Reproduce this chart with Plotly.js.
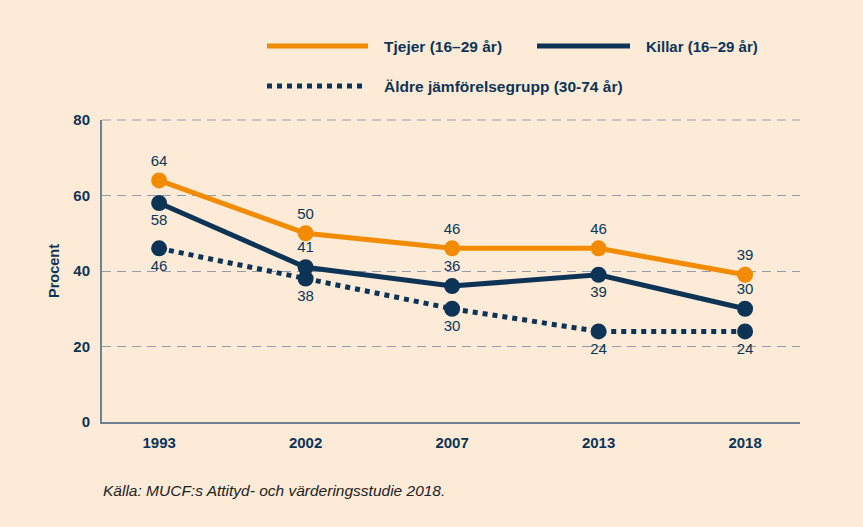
<!DOCTYPE html>
<html><head><meta charset="utf-8">
<script src="https://cdn.plot.ly/plotly-3.0.1.min.js"></script>
<style>html,body{margin:0;padding:0;background:#FDEBD7;}</style>
</head><body>
<div id="chart" style="width:863px;height:527px;"></div>
<script>
const years = ['1993', '2002', '2007', '2013', '2018'];
const tjejer = [64, 50, 46, 46, 39];
const killar = [58, 41, 36, 39, 30];
const aldre = [46, 38, 30, 24, 24];
const killarPos = ['bottom center', 'top center', 'top center', 'bottom center', 'top center'];
const seriesNames = ['Tjejer (16–29 år)', 'Killar (16–29 år)', 'Äldre jämförelsegrupp (30-74 år)'];
const yTicks = [0, 20, 40, 60, 80];
const source = 'Källa: MUCF:s Attityd- och värderingsstudie 2018.';

const navy = '#0D3456';
const orange = '#F28B00';
const bg = '#FDEBD7';
const font = 'Liberation Sans, Arial, sans-serif';
const gridColor = '#929DAA';

const common = {
  type: 'scatter', mode: 'lines+markers+text', x: years, cliponaxis: false,
  textfont: {family: font, size: 15, color: navy}, hoverinfo: 'none'
};
const traces = [
  Object.assign({}, common, {name: seriesNames[2], y: aldre, text: aldre.map(String),
    textposition: 'bottom center',
    line: {color: navy, width: 5, dash: '5px,5px'}, marker: {color: navy, size: 16}}),
  Object.assign({}, common, {name: seriesNames[1], y: killar, text: killar.map(String),
    textposition: killarPos,
    line: {color: navy, width: 5}, marker: {color: navy, size: 16}}),
  Object.assign({}, common, {name: seriesNames[0], y: tjejer, text: tjejer.map(String),
    textposition: 'top center',
    line: {color: orange, width: 5}, marker: {color: orange, size: 16}})
];

function px(x) { return (x - 102) / 698; }
function py(y) { return (422 - y) / 302; }

const layout = {
  width: 863, height: 527,
  paper_bgcolor: bg, plot_bgcolor: bg,
  margin: {l: 102, r: 63, t: 120, b: 105},
  showlegend: false,
  font: {family: font, color: navy},
  xaxis: {
    type: 'category', range: [-0.39, 4.375], showgrid: false,
    showline: true, linecolor: '#6F8193', linewidth: 2,
    ticks: '', ticklabelstandoff: 6,
    tickfont: {family: font, size: 15, color: navy, weight: 'bold'},
    fixedrange: true, zeroline: false
  },
  yaxis: {
    range: [0, 80], tickvals: yTicks, ticktext: yTicks.map(String),
    showgrid: true, gridcolor: gridColor, gridwidth: 1, griddash: '9px,6px',
    showline: true, linecolor: '#6F8193', linewidth: 2, zeroline: false,
    ticks: '', ticklabelstandoff: 7,
    tickfont: {family: font, size: 15, color: navy, weight: 'bold'},
    title: {text: 'Procent', font: {family: font, size: 14.5, color: navy, weight: 'bold'}, standoff: 10},
    fixedrange: true
  },
  shapes: [
    {type: 'line', layer: 'below', xref: 'paper', yref: 'paper', x0: 0, x1: 1, y0: 1, y1: 1,
      line: {color: gridColor, width: 1, dash: '9px,6px'}},
    {type: 'line', xref: 'paper', yref: 'paper', x0: px(267), x1: px(368), y0: py(46), y1: py(46),
      line: {color: orange, width: 5}},
    {type: 'line', xref: 'paper', yref: 'paper', x0: px(537), x1: px(630), y0: py(46), y1: py(46),
      line: {color: navy, width: 5}},
    {type: 'line', xref: 'paper', yref: 'paper', x0: px(267), x1: px(362), y0: py(86), y1: py(86),
      line: {color: navy, width: 5, dash: '5px,5px'}}
  ],
  annotations: [
    {xref: 'paper', yref: 'paper', x: px(382), y: py(46), xanchor: 'left', yanchor: 'middle', showarrow: false,
      text: '<b>' + seriesNames[0] + '</b>', font: {family: font, size: 15.5, color: navy}},
    {xref: 'paper', yref: 'paper', x: px(644), y: py(46), xanchor: 'left', yanchor: 'middle', showarrow: false,
      text: '<b>' + seriesNames[1] + '</b>', font: {family: font, size: 15, color: navy}},
    {xref: 'paper', yref: 'paper', x: px(382), y: py(86), xanchor: 'left', yanchor: 'middle', showarrow: false,
      text: '<b>' + seriesNames[2] + '</b>', font: {family: font, size: 15.5, color: navy}},
    {xref: 'paper', yref: 'paper', x: px(101), y: py(490), xanchor: 'left', yanchor: 'middle', showarrow: false,
      text: '<i>' + source + '</i>', font: {family: font, size: 15.5, color: '#222222'}}
  ]
};

Plotly.newPlot('chart', traces, layout, {displayModeBar: false, staticPlot: true});
</script>
</body></html>
